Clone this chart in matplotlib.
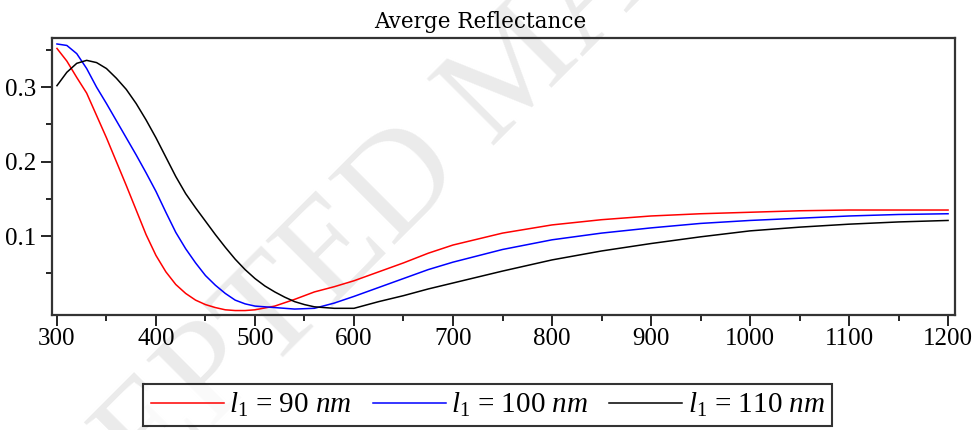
import numpy as np
import matplotlib
matplotlib.use("Agg")
import matplotlib.pyplot as plt

plt.rcParams['font.family'] = ['Liberation Serif', 'DejaVu Serif']
plt.rcParams['mathtext.fontset'] = 'custom'
plt.rcParams['mathtext.rm'] = 'Liberation Serif'
plt.rcParams['mathtext.it'] = 'Liberation Serif:italic'

# Wavelength (nm) and average reflectance
wl_90 = [300, 310, 320, 330, 340, 350, 360, 370, 380, 390, 400, 410, 420, 430,
         440, 450, 460, 470, 480, 490, 500, 520, 540, 560, 580, 600, 625, 650,
         675, 700, 750, 800, 850, 900, 950, 1000, 1050, 1100, 1150, 1200]
r_90 = [0.352, 0.335, 0.313, 0.292, 0.262, 0.232, 0.200, 0.168, 0.135, 0.102,
        0.074, 0.052, 0.035, 0.023, 0.014, 0.008, 0.004, 0.001, 0.000, 0.000,
        0.001, 0.006, 0.015, 0.025, 0.032, 0.040, 0.052, 0.064, 0.077, 0.088,
        0.104, 0.115, 0.122, 0.127, 0.130, 0.132, 0.134, 0.135, 0.135, 0.135]

wl_100 = [300, 310, 320, 330, 340, 350, 360, 370, 380, 390, 400, 410, 420, 430,
          440, 450, 460, 470, 480, 490, 500, 520, 540, 560, 580, 600, 625, 650,
          675, 700, 750, 800, 850, 900, 950, 1000, 1050, 1100, 1150, 1200]
r_100 = [0.358, 0.356, 0.345, 0.325, 0.300, 0.278, 0.255, 0.232, 0.209, 0.185,
         0.160, 0.132, 0.105, 0.083, 0.064, 0.047, 0.034, 0.023, 0.014, 0.009,
         0.006, 0.004, 0.002, 0.003, 0.010, 0.019, 0.031, 0.043, 0.055, 0.065,
         0.082, 0.095, 0.104, 0.111, 0.117, 0.121, 0.124, 0.127, 0.129, 0.130]

wl_110 = [300, 310, 320, 330, 340, 350, 360, 370, 380, 390, 400, 410, 420, 430,
          440, 450, 460, 470, 480, 490, 500, 510, 520, 530, 540, 550, 560, 580,
          600, 625, 650, 675, 700, 750, 800, 850, 900, 950, 1000, 1050, 1100,
          1150, 1200]
r_110 = [0.302, 0.320, 0.332, 0.336, 0.333, 0.325, 0.312, 0.297, 0.278, 0.256,
         0.232, 0.206, 0.180, 0.157, 0.138, 0.120, 0.102, 0.085, 0.069, 0.055,
         0.043, 0.033, 0.025, 0.018, 0.012, 0.008, 0.005, 0.003, 0.003, 0.012,
         0.020, 0.029, 0.037, 0.053, 0.068, 0.080, 0.090, 0.099, 0.107, 0.112,
         0.116, 0.119, 0.121]

labels = [r"$l_1$ = 90 $nm$", r"$l_1$ = 100 $nm$", r"$l_1$ = 110 $nm$"]
colors = ['#ff0000', '#0000ff', '#000000']

fig = plt.figure(figsize=(9.72, 4.30), dpi=100)
ax = fig.add_axes([0.0535, 0.2674, 0.929, 0.6442])
ax.set_facecolor('none')

# faint watermark behind the plot (cut by the page edges, as in the source)
fig.text(0.535, 0.835, "ACCEPTED MANUSCRIPT", rotation=45, fontsize=104,
         color='#ebebeb', ha='center', va='center', zorder=-1)

for wl, r, c, lab in zip([wl_90, wl_100, wl_110], [r_90, r_100, r_110], colors, labels):
    ax.plot(wl, r, color=c, lw=1.1, label=lab)

ax.set_xlim(295, 1207)
ax.set_ylim(-0.006, 0.366)
ax.set_xticks(np.arange(300, 1201, 100))
ax.set_xticks(np.arange(350, 1200, 100), minor=True)
ax.set_yticks([0.1, 0.2, 0.3])
ax.set_yticklabels(['0.1', '0.2', '0.3'])
ax.set_yticks([0.05, 0.15, 0.25, 0.35], minor=True)
ax.tick_params(which='major', length=8, width=1.2, direction='out', labelsize=18)
ax.tick_params(axis='x', which='major', pad=1.5)
ax.tick_params(axis='y', which='major', pad=3)
ax.tick_params(which='minor', length=4.5, width=1.2, direction='out')
for s in ax.spines.values():
    s.set_linewidth(1.6)
    s.set_color('#333333')

fig.text(0.494, 0.949, "Averge Reflectance", ha='center', va='center',
         fontsize=15.5, family='DejaVu Serif')

leg = fig.legend(loc='center', bbox_to_anchor=(0.502, 0.058), ncol=3, fontsize=21,
                 frameon=True, fancybox=False, handlelength=2.5, handletextpad=0.2,
                 columnspacing=0.7, borderpad=0.25, borderaxespad=0)
leg.get_frame().set_edgecolor('black')
leg.get_frame().set_linewidth(1.5)

fig.savefig("out.png", dpi=100)
